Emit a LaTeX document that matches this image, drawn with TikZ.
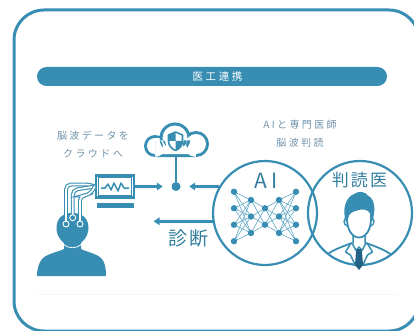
\documentclass[tikz,border=0pt]{standalone}
\usepackage{fontspec}
\setmainfont{Noto Sans CJK JP}
\newfontfamily\jpwide[LetterSpace=24]{Noto Sans CJK JP}
\newfontfamily\jpmid[LetterSpace=12]{Noto Sans CJK JP}
\usetikzlibrary{arrows.meta,positioning,calc}

\definecolor{med}{RGB}{56,142,178}
\definecolor{medtext}{RGB}{112,146,170}
\definecolor{meddark}{RGB}{34,98,132}
\definecolor{medlink}{RGB}{96,168,198}

\tikzset{
  frame/.style={draw=med, line width=3pt, rounded corners=30pt},
  banner/.style={fill=med, rounded corners=9.5pt, minimum width=350pt, minimum height=19pt, inner sep=0pt},
  title/.style={text=white, inner sep=0pt, font=\fontsize{10.5}{12}\jpwide},
  lbl/.style={text=medtext, align=center, inner sep=0pt, font=\fontsize{10}{18}\jpwide},
  big/.style={text=med!88!black, inner sep=0pt},
  ring/.style={circle, draw=med, line width=2.2pt, minimum size=104pt, inner sep=0pt},
  hubdot/.style={circle, fill=med, minimum size=9pt, inner sep=0pt},
  ar/.style={draw=med, line width=2.8pt, -{Triangle[length=6pt,width=7.5pt]}},
  wire/.style={draw=med, line width=2.6pt},
  tube/.style={draw=med, double=white, line width=1.1pt, double distance=1.7pt, rounded corners=5pt},
  electrode/.style={circle, draw=white, fill=med, line width=0.9pt, minimum size=6pt, inner sep=0pt},
  screen/.style={draw=med, line width=2.2pt, fill=white, minimum width=38pt, minimum height=22pt, inner sep=0pt},
  neuron/.style={circle, fill=med, minimum size=6.4pt, inner sep=0pt},
  nnlink/.style={draw=medlink, line width=0.6pt},
}

\begin{document}
\begin{tikzpicture}[x=1pt, y=-1pt]
\useasboundingbox (0,0) rectangle (414,331);

% ---- outer card and heading ----
\draw[frame] (14,10) rectangle (419,331);
\node[banner] (band) at (212,76.5) {};
\node[title] (ttl) at (217.5,77) {医工連携};
\draw[gray!9, line width=0.6pt] (37,294) -- (397,294);

% ---- captions ----
\node[lbl] (upl) at (93,144) {脳波データを\\クラウドへ};
\node[lbl] (upr) at (300,134) {AIと専門医師\\脳波判読};

% ---- patient with electrodes ----
\fill[med] (64,249) -- (64,243) .. controls (58,238) and (56.5,233) .. (56.5,228)
  .. controls (56.5,218) and (63,213) .. (72.5,213) .. controls (82,213) and (88.5,218) .. (88.5,228)
  .. controls (88.5,233) and (86,239) .. (81,243) -- (81,249)
  .. controls (87,252) and (98,254) .. (102,259) .. controls (105,263) and (106,268) .. (106,276)
  -- (37,276) .. controls (37,268) and (39,263) .. (42,259) .. controls (46,254) and (58,252) .. (64,249) -- cycle;
\draw[white, line width=0.8pt] (63,244) .. controls (68,249) and (77,249) .. (82,244);

\node[screen] (mon) at (115,186.5) {};
\node[fill=med, minimum width=37pt, minimum height=5pt, inner sep=0pt, below=4pt of mon] (stand) {};
\draw[med, line width=0.9pt] ($(mon.north west)+(3.5,3.5)$) rectangle ($(mon.south east)+(-3.5,-3.5)$);
\draw[med, line width=1.5pt, line join=round]
  (101,188) -- (105,188) -- (108,184) -- (111,190) -- (114,183) -- (118,191) -- (121,183) -- (124,188) -- (129,188);

\draw[tube] (66,222) -- (66,184.5) -- (90,184.5) -- (mon.west);
\draw[tube] (72.7,215) -- (72.7,190) -- (mon.west);
\draw[tube] (80,222) -- (80,195.5) -- (89,195.5) -- (mon.west);
\node[electrode] (e1) at (66,224) {};
\node[electrode] (e2) at (72.7,217.7) {};
\node[electrode] (e3) at (80,224) {};

% ---- cloud with shield ----
\fill[med] (155,146) circle (11) (175,138) circle (15.5) (196,144) circle (13) (155,138) rectangle (196,157);
\fill[white] (155,146) circle (8) (175,138) circle (12.5) (196,144) circle (10) (155,140.5) rectangle (196,154);
\begin{scope}[yshift=2pt]
  \clip (168.5,137) -- (175.5,134) -- (182.5,137) -- (182.5,143) .. controls (182.5,148) and (179,151) .. (175.5,152.5)
    .. controls (172,151) and (168.5,148) .. (168.5,143) -- cycle;
  \fill[med] (167,132) rectangle (175.5,143) (175.5,143) rectangle (184,154);
\end{scope}
\draw[yshift=2pt, med, line width=1.6pt, line join=round] (168.5,137) -- (175.5,134) -- (182.5,137) -- (182.5,143)
  .. controls (182.5,148) and (179,151) .. (175.5,152.5) .. controls (172,151) and (168.5,148) .. (168.5,143) -- cycle;
\coordinate (cloudfoot) at (176,156);

\node[hubdot] (hub) at (176,186.5) {};
\draw[wire] (cloudfoot) -- (hub);

% ---- AI and reading doctor ----
\node[ring] (ai) at (265,213) {};
\node[ring] (doc) at (360,213) {};
\node[big, font=\fontsize{21}{22}\jpwide] (ailbl) at (266,180.5) {AI};
\node[big, font=\fontsize{17}{18}\jpmid] (doclbl) at (359.5,180.5) {判読医};

% network 4-3-2-3-4
\foreach \l/\k/\x in {1/4/234, 2/3/251, 3/2/265, 4/3/279, 5/4/296}
  \foreach \i in {1,...,\k}
    \coordinate (n\l-\i) at (\x, {216.5+(\i-(\k+1)/2)*16.5});
\foreach \a/\ka/\b/\kb in {1/4/2/3, 2/3/3/2, 3/2/4/3, 4/3/5/4}
  \foreach \i in {1,...,\ka}
    \foreach \j in {1,...,\kb}
      \draw[nnlink] (n\a-\i) -- (n\b-\j);
\foreach \l/\k in {1/4, 2/3, 3/2, 4/3, 5/4}
  \foreach \i in {1,...,\k}
    \node[neuron] at (n\l-\i) {};

% doctor bust
\begin{scope}
  \clip (doc.center) circle (52);
  \draw[med, line width=1.8pt, line join=round]
    (310,282) -- (318,263) .. controls (325,253) and (338,248) .. (352,243)
    (366,243) .. controls (380,248) and (393,253) .. (400,263) -- (408,282);
  \draw[med, line width=1.5pt, line join=round]
    (351,243) -- (345.5,252) -- (350.5,255) -- (359,273) -- (367.5,255) -- (372.5,252) -- (367,243)
    (352,243) -- (356,250.5) -- (359,247) -- (362,250.5) -- (366,243)
    (353,234) -- (353,243) (365,234) -- (365,243);
\end{scope}
\fill[meddark] (357,249) -- (361,249) -- (362,252) -- (363,265) -- (359,270) -- (355,265) -- (356,252) -- cycle;
\draw[med, line width=1.8pt, fill=white] (347,214) .. controls (346,231) and (353,237.5) .. (359,237.5)
  .. controls (365,237.5) and (372,231) .. (371,214);
\draw[med, line width=1.4pt] (347,218) .. controls (343,218) and (343,225) .. (347.5,226)
  (371,218) .. controls (375,218) and (375,225) .. (370.5,226);
\fill[med] (346,222) .. controls (342,210) and (345,197) .. (355,193.5) .. controls (359,190.5) and (366,192) .. (368.5,196)
  .. controls (375,199) and (376,211) .. (372,222) -- (370.5,214) .. controls (368,209) and (362,208.5) .. (357,210.5)
  .. controls (352,212) and (349,213) .. (348,219) -- cycle;

% ---- data flow ----
\draw[ar, shorten >=8.5pt] (mon.east) -- (hub);
\draw[ar, shorten >=8.5pt] (ai.150) -- (hub);
\path (ai.189) ++(-59,0) coordinate (back);
\draw[ar] (ai.189) -- (back);
\node[big, font=\fontsize{19}{20}\jpmid] (diag) at (188.5,238) {診断};

\end{tikzpicture}
\end{document}
